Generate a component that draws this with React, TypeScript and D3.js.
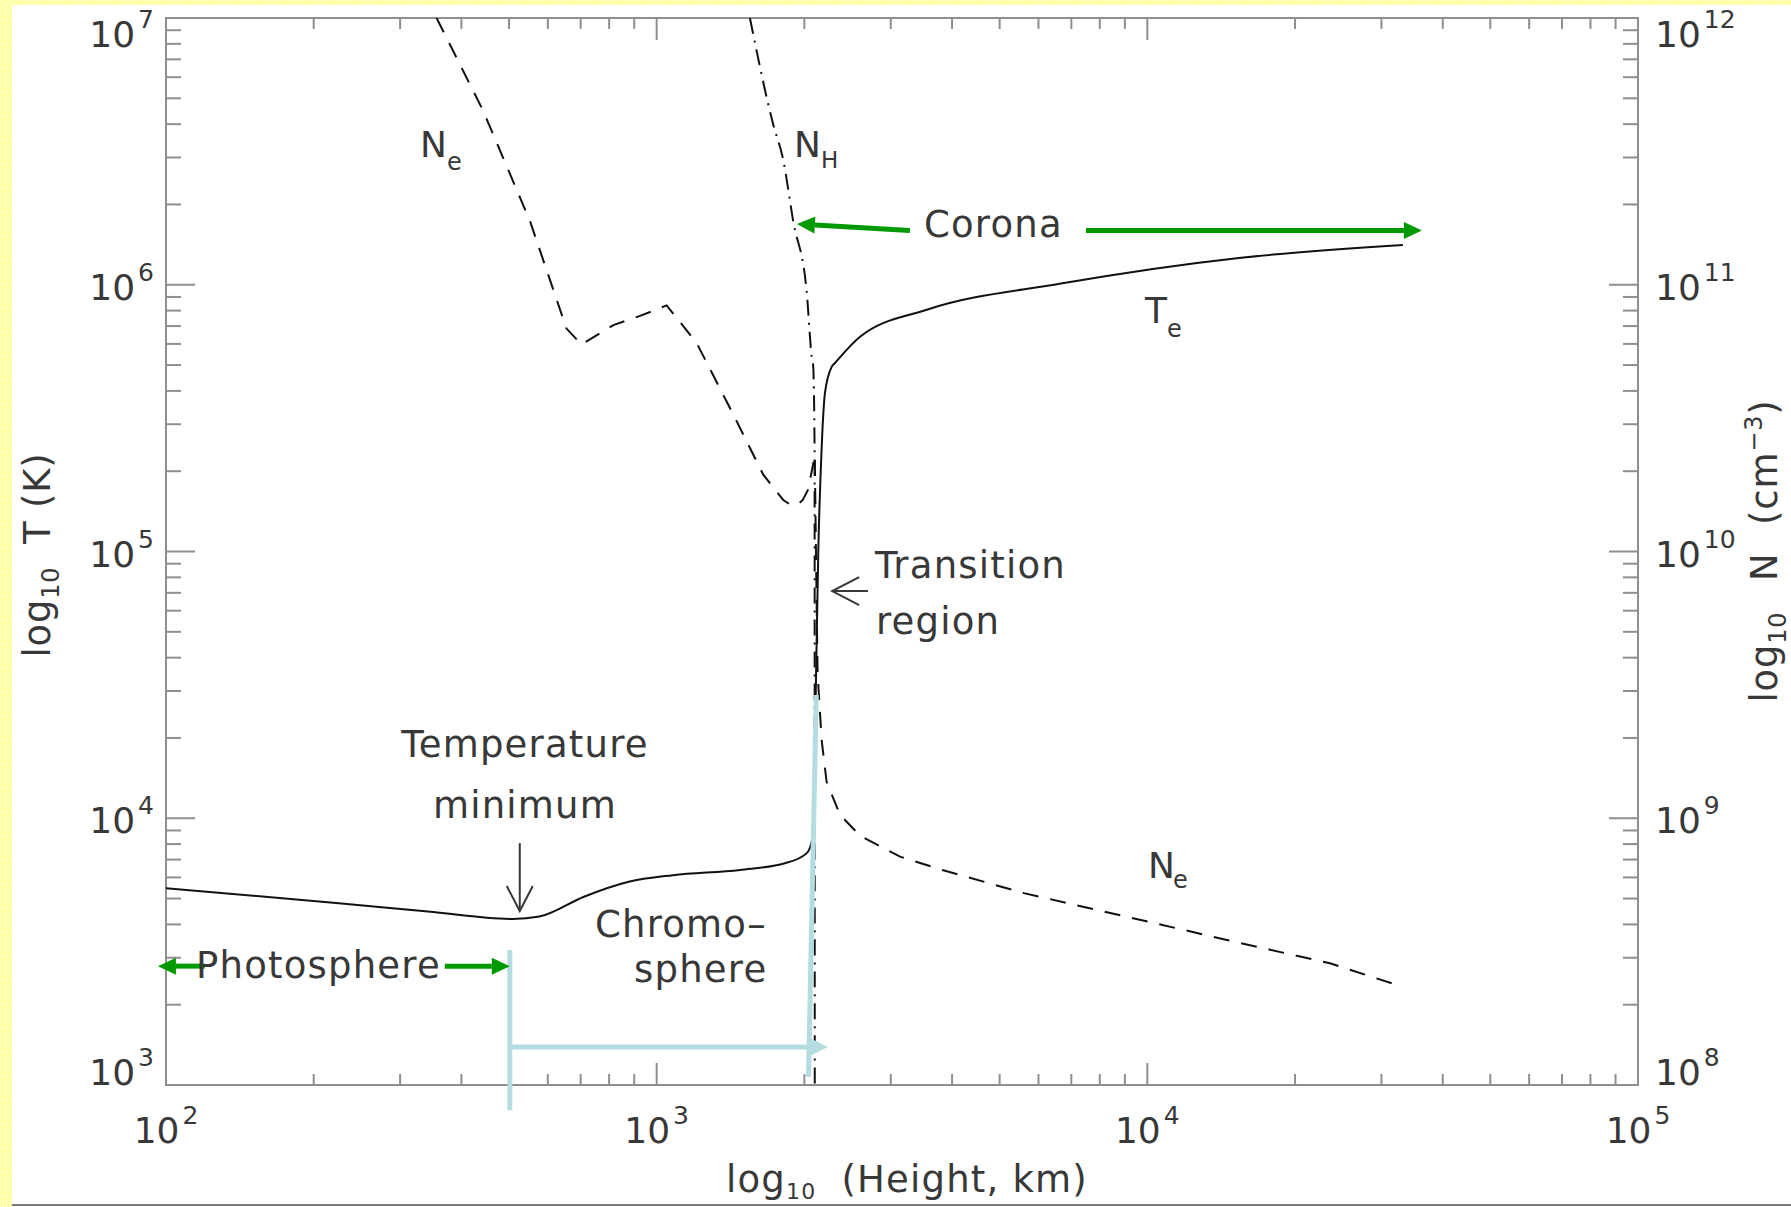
import React from "react";
import * as d3 from "d3";

// ---------- data ----------
// Electron temperature T_e (K) vs height (km)
const heightTe = [100, 225, 342, 509, 577, 711, 877, 1079, 1479, 1825, 2023, 2070, 2090, 2110, 2135, 2169, 2203, 2274, 2309, 2597, 3539, 6668, 15370, 33180];
const tempTe = [5470, 4800, 4470, 4190, 4280, 5080, 5780, 6120, 6400, 6780, 7400, 8170, 12000, 30000, 100000, 245000, 393000, 493000, 509000, 638000, 804000, 1010000, 1260000, 1410000];

// Electron density N_e (cm^-3) vs height (km)
const heightNe = [356, 443, 552, 655, 703, 816, 925, 1048, 1206, 1432, 1649, 1811, 1870, 1929, 1985, 2037, 2085, 2100, 2115, 2128, 2169, 2220, 2364, 2597, 3132, 3821, 5603, 9045, 14600, 23560, 32960];
const densNe = [1.0e12, 4.49e11, 1.73e11, 6.85e10, 5.97e10, 7.06e10, 7.64e10, 8.37e10, 6.05e10, 3.27e10, 1.94e10, 1.56e10, 1.5e10, 1.49e10, 1.56e10, 1.71e10, 2.14e10, 2.3e10, 8.0e9, 3.5e9, 1.96e9, 1.37e9, 1.03e9, 8.6e8, 7.18e8, 6.4e8, 5.24e8, 4.28e8, 3.49e8, 2.86e8, 2.34e8];

// Hydrogen density N_H (cm^-3) vs height (km)
const heightNH = [1549, 1729, 1811, 1898, 2022, 2070, 2085, 2098, 2100];
const densNH = [1.0e12, 3.97e11, 2.94e11, 1.73e11, 9.4e10, 5.36e10, 4.93e10, 2.44e10, 1.0e8];

// Axis domains
const xDomain = [1e2, 1e5];
const tDomain = [1e3, 1e7];
const nDomain = [1e8, 1e12];

// Annotation arrows in data units: [h1, T1, h2(tip), T2(tip)]
const greenArrows = [
  [120, 2790, 96.3, 2790],
  [370, 2790, 502, 2790],
  [3282, 1.597e6, 1931, 1.69e6],
  [7497, 1.597e6, 36270, 1.597e6],
];
const blueVertical = [502, 3210, 502, 805];
const blueArrow = [502, 1388, 2234, 1388];
const blueSlant = [2039, 1072, 2115, 28970];
const tminArrow = [526, 8070, 526, 4490];
const trArrow = [2695, 71100, 2279, 71100];

const W = 1791;
const H = 1207;
const P = { left: 166, right: 1638, top: 18, bottom: 1085 };
const FONT = "'DejaVu Sans', sans-serif";
const TXT = "#383838";
const AX = "#8f8f8f";
const GREEN = "#009a00";
const BLUE = "#b5dde1";

function head(x1: number, y1: number, x2: number, y2: number, len: number, half: number) {
  const dx = x2 - x1, dy = y2 - y1;
  const n = Math.hypot(dx, dy) || 1;
  const ux = dx / n, uy = dy / n;
  const bx = x2 - ux * len, by = y2 - uy * len;
  const px = -uy, py = ux;
  return { bx, by, a: [bx + px * half, by + py * half], b: [bx - px * half, by - py * half] };
}

export default function App() {
  const x = d3.scaleLog().domain(xDomain).range([P.left, P.right]);
  const yT = d3.scaleLog().domain(tDomain).range([P.bottom, P.top]);
  const yN = d3.scaleLog().domain(nDomain).range([P.bottom, P.top]);

  const lineT = d3.line<[number, number]>().x(d => x(d[0])).y(d => yT(d[1])).curve(d3.curveMonotoneX);
  const lineNe = d3.line<[number, number]>().x(d => x(d[0])).y(d => yN(d[1])).curve(d3.curveLinear);
  const lineNH = d3.line<[number, number]>().x(d => x(d[0])).y(d => yN(d[1])).curve(d3.curveMonotoneX);

  const teD = lineT(d3.zip(heightTe, tempTe) as [number, number][]) || "";
  const neD = lineNe(d3.zip(heightNe, densNe) as [number, number][]) || "";
  const nhD = lineNH(d3.zip(heightNH, densNH) as [number, number][]) || "";

  const isMajor = (v: number) => Math.abs(Math.log10(v) - Math.round(Math.log10(v))) < 1e-9;
  const xt = x.ticks();
  const tt = yT.ticks();
  const nt = yN.ticks();

  const pt = (h: number, t: number): [number, number] => [x(h), yT(t)];

  const tickLabelBase = (y: number) => Math.min(Math.max(y + 15, 46.7), P.bottom);

  const Pow = ({ px, py, e, anchor }: { px: number; py: number; e: number; anchor: string }) => (
    <text x={px} y={py} textAnchor={anchor} fontSize={36} fill={TXT} fontFamily={FONT}>
      10
      <tspan dx={3} dy={-19} fontSize={25}>{e}</tspan>
    </text>
  );

  const solidArrow = (a: number[], color: string, width: number, len: number, half: number, key: string) => {
    const [x1, y1] = pt(a[0], a[1]);
    const [x2, y2] = pt(a[2], a[3]);
    const hd = head(x1, y1, x2, y2, len, half);
    return (
      <g key={key}>
        <line x1={x1} y1={y1} x2={hd.bx} y2={hd.by} stroke={color} strokeWidth={width} />
        <polygon points={`${x2},${y2} ${hd.a[0]},${hd.a[1]} ${hd.b[0]},${hd.b[1]}`} fill={color} />
      </g>
    );
  };

  const openArrow = (a: number[], len: number, half: number, key: string) => {
    const [x1, y1] = pt(a[0], a[1]);
    const [x2, y2] = pt(a[2], a[3]);
    const hd = head(x1, y1, x2, y2, len, half);
    return (
      <g key={key} stroke={TXT} strokeWidth={2} fill="none">
        <line x1={x1} y1={y1} x2={x2} y2={y2} />
        <polyline points={`${hd.a[0]},${hd.a[1]} ${x2},${y2} ${hd.b[0]},${hd.b[1]}`} />
      </g>
    );
  };

  const [bvx1, bvy1] = pt(blueVertical[0], blueVertical[1]);
  const [bvx2, bvy2] = pt(blueVertical[2], blueVertical[3]);
  const [bsx1, bsy1] = pt(blueSlant[0], blueSlant[1]);
  const [bsx2, bsy2] = pt(blueSlant[2], blueSlant[3]);

  const ann = { fontSize: 37, fill: TXT, fontFamily: FONT, letterSpacing: 1.2 } as const;

  return (
    <svg width={W} height={H} style={{ position: "absolute", left: 0, top: 0, display: "block", background: "#fff" }}>
      <defs>
        <pattern id="chk" width="3" height="3" patternUnits="userSpaceOnUse">
          <rect width="3" height="3" fill="#ffffa6" />
          <rect width="1" height="1" fill="#ffffe8" />
        </pattern>
        <clipPath id="plotclip">
          <rect x={P.left} y={P.top} width={P.right - P.left} height={P.bottom - P.top} />
        </clipPath>
      </defs>
      <rect x={0} y={0} width={W} height={H} fill="#fff" />
      <rect x={0} y={0} width={12} height={H} fill="url(#chk)" />
      <rect x={0} y={0} width={W} height={5} fill="url(#chk)" />
      <line x1={12} y1={1205} x2={W} y2={1205} stroke="#7a7a7a" strokeWidth={2} />

      {/* axes frame */}
      <g stroke={AX} strokeWidth={2} fill="none">
        <rect x={P.left} y={P.top} width={P.right - P.left} height={P.bottom - P.top} />
        {xt.map((t, i) => {
          const L = isMajor(t) ? 22 : 11;
          return (
            <g key={"xt" + i}>
              <line x1={x(t)} x2={x(t)} y1={P.bottom} y2={P.bottom - L} />
              <line x1={x(t)} x2={x(t)} y1={P.top} y2={P.top + L} />
            </g>
          );
        })}
        {tt.map((t, i) => {
          const L = isMajor(t) ? 29 : 15;
          return <line key={"lt" + i} x1={P.left} x2={P.left + L} y1={yT(t)} y2={yT(t)} />;
        })}
        {nt.map((t, i) => {
          const L = isMajor(t) ? 29 : 15;
          return <line key={"rt" + i} x1={P.right} x2={P.right - L} y1={yN(t)} y2={yN(t)} />;
        })}
      </g>

      {/* tick labels */}
      {xt.filter(isMajor).map((t, i) => (
        <Pow key={"xl" + i} px={x(t)} py={1143} e={Math.round(Math.log10(t))} anchor="middle" />
      ))}
      {tt.filter(isMajor).map((t, i) => (
        <Pow key={"ll" + i} px={154} py={tickLabelBase(yT(t))} e={Math.round(Math.log10(t))} anchor="end" />
      ))}
      {nt.filter(isMajor).map((t, i) => (
        <Pow key={"rl" + i} px={1655} py={tickLabelBase(yN(t))} e={Math.round(Math.log10(t))} anchor="start" />
      ))}

      {/* axis titles */}
      <text x={726} y={1192} fontSize={37} fill={TXT} fontFamily={FONT} letterSpacing={1.2}>
        log<tspan fontSize={22} dy={7}>10</tspan>
        <tspan dy={-7} dx={12}> (Height, km)</tspan>
      </text>
      <text transform="translate(50,555) rotate(-90)" textAnchor="middle" fontSize={37} fill={TXT} fontFamily={FONT} letterSpacing={0.8}>
        log<tspan fontSize={24} dy={9}>10</tspan>
        <tspan dy={-9} dx={10}> T</tspan>
        <tspan> (K)</tspan>
      </text>
      <text transform="translate(1777,551) rotate(-90)" textAnchor="middle" fontSize={37} fill={TXT} fontFamily={FONT} letterSpacing={0.8}>
        log<tspan fontSize={24} dy={9}>10</tspan>
        <tspan dy={-9} dx={18}> N</tspan>
        <tspan dx={15}> (cm</tspan>
        <tspan fontSize={24} dy={-15}>−3</tspan>
        <tspan dy={15}>)</tspan>
      </text>

      {/* curves */}
      <g clipPath="url(#plotclip)" fill="none" stroke="#111" strokeWidth={2}>
        <path d={neD} strokeDasharray="16 12" />
        <path d={nhD} strokeDasharray="16 7 2 7" />
        <path d={teD} />
      </g>

      {/* light-blue chromosphere markers */}
      <g>
        <line x1={bvx1} y1={bvy1} x2={bvx2} y2={bvy2} stroke={BLUE} strokeWidth={5} />
        {solidArrow(blueArrow, BLUE, 5, 18, 9, "ba")}
        <line x1={bsx1} y1={bsy1} x2={bsx2} y2={bsy2} stroke={BLUE} strokeWidth={5} />
      </g>

      {/* green arrows */}
      {greenArrows.map((a, i) => solidArrow(a, GREEN, 5, 18, 8.5, "ga" + i))}

      {/* open arrows */}
      {openArrow(tminArrow, 25, 13, "tm")}
      {openArrow(trArrow, 27, 14, "tr")}

      {/* annotations */}
      <text x={196} y={978} {...ann}>Photosphere</text>
      <text x={525} y={757} textAnchor="middle" {...ann}>Temperature</text>
      <text x={525} y={818} textAnchor="middle" {...ann}>minimum</text>
      <text x={595} y={937} {...ann}>Chromo–</text>
      <text x={634} y={982} {...ann}>sphere</text>
      <text x={875} y={578} {...ann}>Transition</text>
      <text x={876} y={634} {...ann}>region</text>
      <text x={924} y={237} {...ann}>Corona</text>

      <text x={420} y={157} fontSize={36} fill={TXT} fontFamily={FONT}>
        N<tspan fontSize={24} dy={13}>e</tspan>
      </text>
      <text x={794} y={157} fontSize={36} fill={TXT} fontFamily={FONT}>
        N<tspan fontSize={23} dy={11}>H</tspan>
      </text>
      <text x={1145} y={323} fontSize={36} fill={TXT} fontFamily={FONT}>
        T<tspan fontSize={24} dy={14}>e</tspan>
      </text>
      <text x={1148} y={878} fontSize={36} fill={TXT} fontFamily={FONT}>
        N<tspan fontSize={24} dy={10} dx={-2}>e</tspan>
      </text>
    </svg>
  );
}
